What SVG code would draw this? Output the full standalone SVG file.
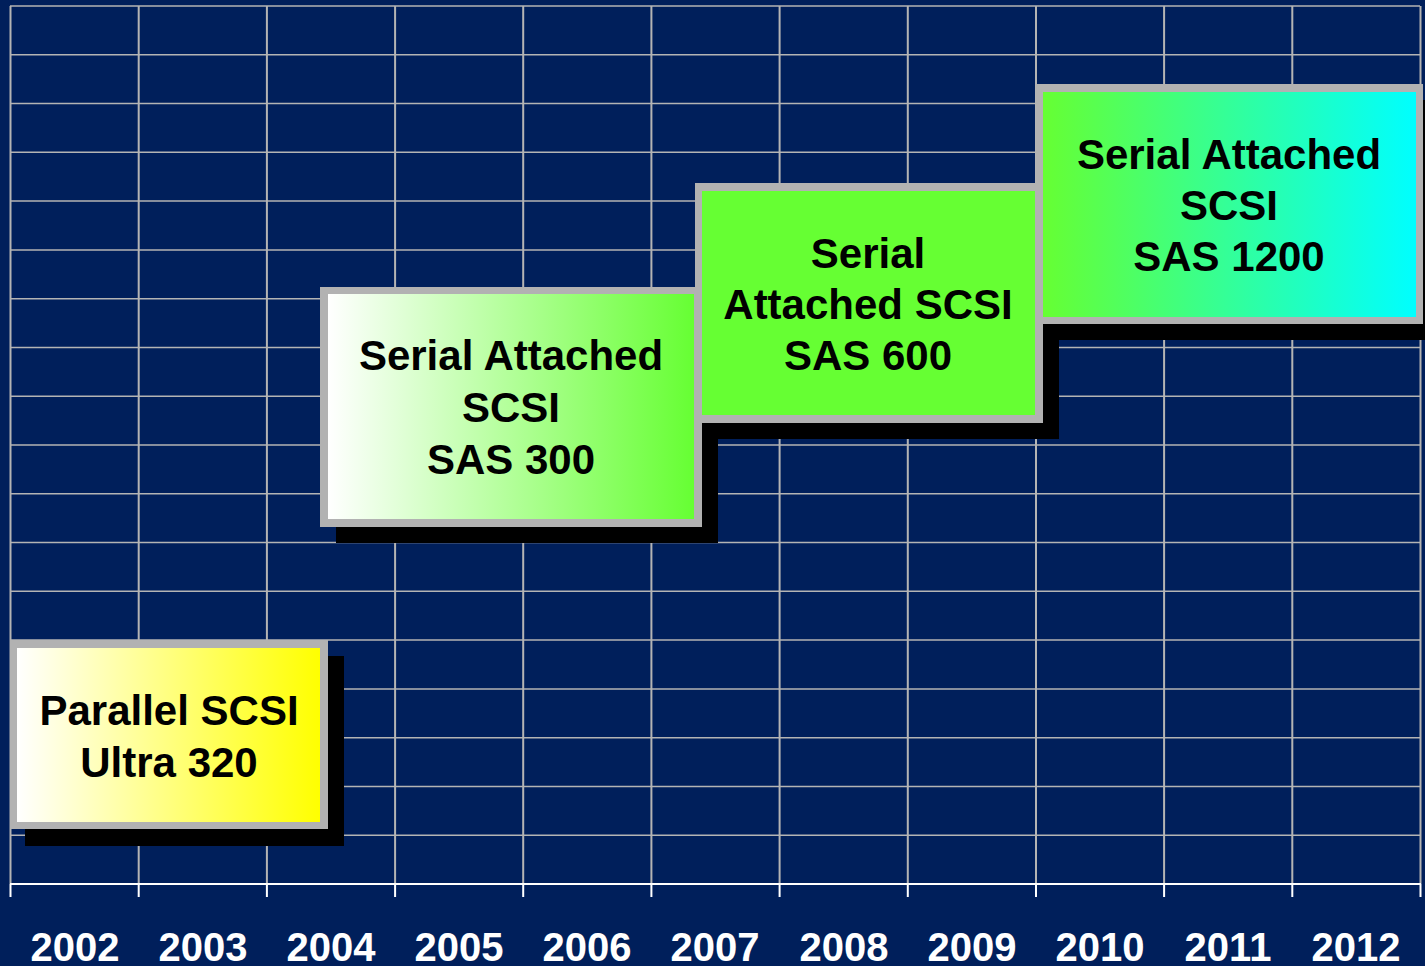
<svg xmlns="http://www.w3.org/2000/svg" width="1425" height="966" viewBox="0 0 1425 966">
<style>
.grid{stroke:#b4b4b4;stroke-width:1.5;fill:none}
.vgrid{stroke:#b4b4b4;stroke-width:2;fill:none}
.axis{stroke:#ffffff;stroke-width:2;fill:none}
.border{fill:#b2b2b2}
.shadow{fill:#000000}
.lbl{font-family:"Liberation Sans",Arial,sans-serif;font-weight:bold;font-size:42px;fill:#000;text-anchor:middle}
.yr{font-family:"Liberation Sans",Arial,sans-serif;font-weight:bold;font-size:40px;fill:#fff;text-anchor:middle}
</style>
<defs>
<linearGradient id="gY" x1="0" y1="0" x2="1" y2="0"><stop offset="0" stop-color="#ffffff"/><stop offset="1" stop-color="#ffff00"/></linearGradient>
<linearGradient id="gG" x1="0" y1="0" x2="1" y2="0"><stop offset="0" stop-color="#ffffff"/><stop offset="1" stop-color="#66ff33"/></linearGradient>
<linearGradient id="gC" x1="0" y1="0" x2="1" y2="0"><stop offset="0" stop-color="#66ff33"/><stop offset="1" stop-color="#00ffff"/></linearGradient>
</defs>
<rect x="0" y="0" width="1425" height="966" fill="#001f5b"/>
<g id="grid">
<path class="grid" d="M10 6H1420M10 54.8H1420M10 103.6H1420M10 152.3H1420M10 201.1H1420M10 249.9H1420M10 298.7H1420M10 347.4H1420M10 396.2H1420M10 445H1420M10 493.8H1420M10 542.6H1420M10 591.3H1420M10 640.1H1420M10 688.9H1420M10 737.7H1420M10 786.4H1420M10 835.2H1420"/>
<path class="vgrid" d="M10.5 6V884M138.7 6V884M266.9 6V884M395.1 6V884M523.2 6V884M651.4 6V884M779.6 6V884M907.8 6V884M1036 6V884M1164.1 6V884M1292.3 6V884M1420.5 6V884"/>
</g>
<g id="axis">
<path class="axis" d="M10 884H1421M10.5 884V897M138.7 884V897M266.9 884V897M395.1 884V897M523.2 884V897M651.4 884V897M779.6 884V897M907.8 884V897M1036 884V897M1164.1 884V897M1292.3 884V897M1420.5 884V897"/>
<text class="yr" x="75" y="961">2002</text>
<text class="yr" x="203" y="961">2003</text>
<text class="yr" x="331" y="961">2004</text>
<text class="yr" x="459" y="961">2005</text>
<text class="yr" x="587" y="961">2006</text>
<text class="yr" x="715" y="961">2007</text>
<text class="yr" x="844" y="961">2008</text>
<text class="yr" x="972" y="961">2009</text>
<text class="yr" x="1100" y="961">2010</text>
<text class="yr" x="1228" y="961">2011</text>
<text class="yr" x="1356" y="961">2012</text>
</g>
<g id="node-parallel-scsi">
<rect class="shadow" x="25" y="656" width="319" height="190"/>
<rect class="border" x="10" y="640" width="318" height="189"/>
<rect x="17" y="648" width="303" height="174" fill="url(#gY)"/>
<text class="lbl" x="169" y="725">Parallel SCSI</text>
<text class="lbl" x="169" y="777">Ultra 320</text>
</g>
<g id="node-sas300">
<rect class="shadow" x="336" y="303" width="382" height="240"/>
<rect class="border" x="320" y="287" width="382" height="240"/>
<rect x="328" y="294" width="366" height="225" fill="url(#gG)"/>
<text class="lbl" x="511" y="370">Serial Attached</text>
<text class="lbl" x="511" y="422">SCSI</text>
<text class="lbl" x="511" y="474">SAS 300</text>
</g>
<g id="node-sas600">
<rect class="shadow" x="711" y="199" width="348" height="240"/>
<rect class="border" x="695" y="183" width="348" height="240"/>
<rect x="702" y="191" width="333" height="224" fill="#66ff33"/>
<text class="lbl" x="868" y="268">Serial</text>
<text class="lbl" x="868" y="319">Attached SCSI</text>
<text class="lbl" x="868" y="370">SAS 600</text>
</g>
<g id="node-sas1200">
<rect class="shadow" x="1052" y="100" width="387" height="240"/>
<rect class="border" x="1036" y="84" width="387" height="240"/>
<rect x="1043" y="92" width="373" height="225" fill="url(#gC)"/>
<text class="lbl" x="1229" y="169">Serial Attached</text>
<text class="lbl" x="1229" y="220">SCSI</text>
<text class="lbl" x="1229" y="271">SAS 1200</text>
</g>
<g id="connectors"></g>
</svg>
